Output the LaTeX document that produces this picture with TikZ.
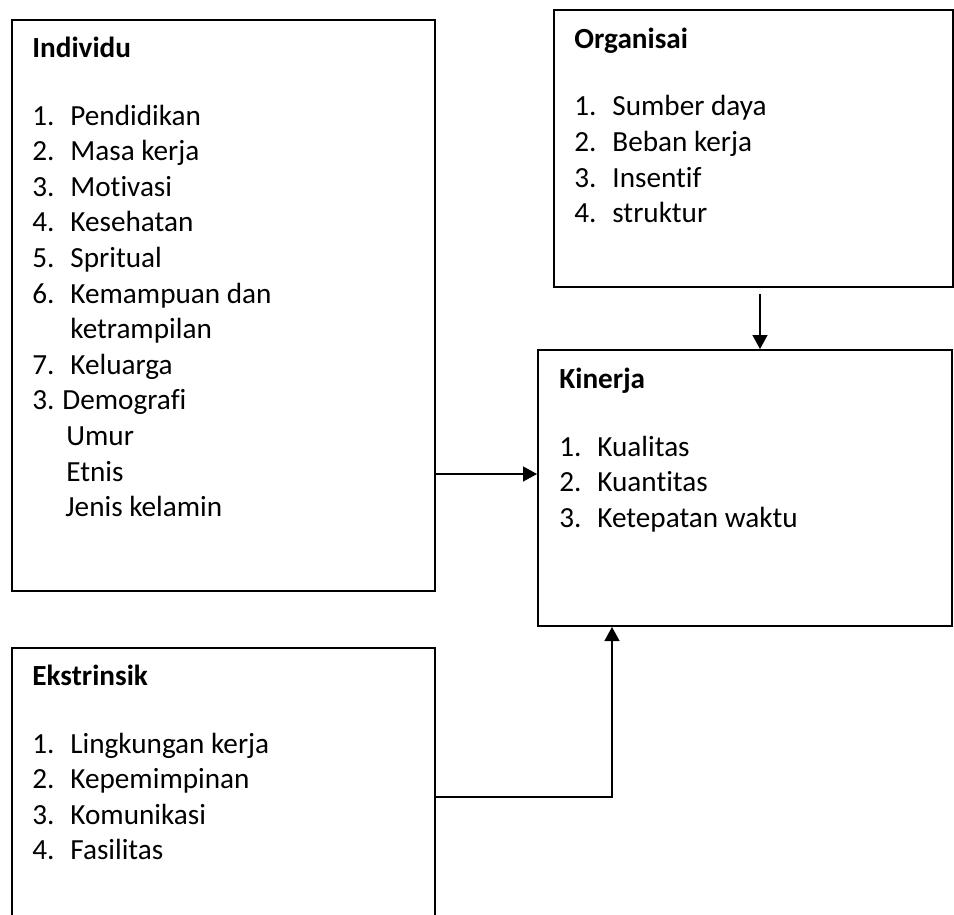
\documentclass[tikz,border=0pt]{standalone}
\usepackage{fontspec}
\setmainfont{Carlito}[Ligatures=NoCommon]
\usetikzlibrary{arrows.meta, calc}
\newcommand{\nm}[1]{\makebox[19pt][l]{#1}}

\begin{document}
\begin{tikzpicture}[x=0.5pt, y=-0.5pt,
        box/.style={draw, line width=1pt, inner sep=0pt, anchor=north west},
        list/.style={anchor=north west, inner sep=0pt, align=left, font=\fontsize{14.6}{17.8}\selectfont},
        flow/.style={-{Triangle[length=7pt, width=7.5pt]}, line width=0.7pt}]
        \clip (0,0) rectangle (954,915);

        %coordinates
        \coordinate (ij) at (0,474);
        \coordinate (ej) at (612,797);

        %nodes
        \node[box, minimum width=211.5pt, minimum height=285.5pt] (ind) at (11,19) {};
        \node[box, minimum width=199.5pt, minimum height=138.5pt] (org) at (553,9) {};
        \node[box, minimum width=207pt, minimum height=138pt] (kin) at (537,349) {};
        \node[box, minimum width=211.5pt, minimum height=150pt] (eks) at (11,647) {};

        % first line held at 11pt above its baseline
        \node[list] (indtxt) at ($(ind.north west)+(21,16)$) {\rule{0pt}{11pt}\textbf{Individu}\\[16pt]
                \nm{1.}Pendidikan\\ \nm{2.}Masa kerja\\ \nm{3.}Motivasi\\
                \nm{4.}Kesehatan\\ \nm{5.}Spritual\\ \nm{6.}Kemampuan dan\\
                \nm{}ketrampilan\\ \nm{7.}Keluarga\\ \makebox[15pt][l]{3.}Demografi\\
                \hspace*{17pt}Umur\\ \hspace*{17pt}Etnis\\ \hspace*{16.5pt}Jenis kelamin};
        \node[list] (orgtxt) at ($(org.north west)+(21,17)$) {\rule{0pt}{11pt}\textbf{Organisai}\\[16pt]
                \nm{1.}Sumber daya\\ \nm{2.}Beban kerja\\ \nm{3.}Insentif\\ \nm{4.}struktur};
        \node[list] (kintxt) at ($(kin.north west)+(22,17)$) {\rule{0pt}{11pt}\textbf{Kinerja}\\[16pt]
                \nm{1.}Kualitas\\ \nm{2.}Kuantitas\\ \nm{3.}Ketepatan waktu};
        \node[list] (ekstxt) at ($(eks.north west)+(21,16)$) {\rule{0pt}{11pt}\textbf{Ekstrinsik}\\[16pt]
                \nm{1.}Lingkungan kerja\\ \nm{2.}Kepemimpinan\\ \nm{3.}Komunikasi\\ \nm{4.}Fasilitas};

        \coordinate (oj) at ($(org.south)+(6.5,6)$);

        %edges
        \draw[flow] (oj) -- (oj |- kin.north);
        \draw[flow] (ind.east |- ij) -- (kin.west |- ij);
        \draw[flow] (eks.east |- ej) -| (kin.south -| ej);
\end{tikzpicture}
\end{document}
